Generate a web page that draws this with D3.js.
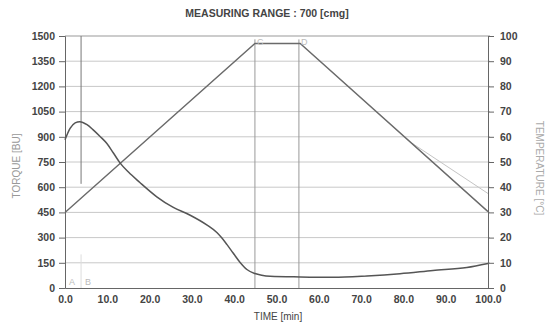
<!DOCTYPE html>
<html><head><meta charset="utf-8">
<script src="https://cdn.jsdelivr.net/npm/d3@7"></script>
<style>body{margin:0;background:#fff}svg{display:block}text{font-family:"Liberation Sans",Arial,sans-serif}</style>
</head><body><svg id="c" width="545" height="325"></svg>
<script>
const title = "MEASURING RANGE : 700 [cmg]";
const timeTicks = [0,10,20,30,40,50,60,70,80,90,100];
const torqueTicks = [0,150,300,450,600,750,900,1050,1200,1350,1500];
const tempTicks = [0,10,20,30,40,50,60,70,80,90,100];
const torqueTime = [0,1.2,2.4,3.5,5.2,6.6,8.3,9.9,11.4,13,15,17.7,21.7,25.5,29.6,33.6,35.9,37,38.3,39.7,41.4,43,44.9,46.5,48.5,55.6,63.4,71.4,79.2,87,95,100];
const torqueVal  = [882,950,983,990,972,943,902,860,805,745,690,628,543,481,433,374,330,300,258,210,152,110,86,76,70,66,64,72,85,104,122,146];
const tempTime = [0,44.9,55.6,100];
const tempVal  = [30,97,97,30.3];
const setTime = [82,100];
const setVal  = [57.5,37.5];
const markerLabels = ["A","B","C","D"];
const markerTime = [0,3.8,44.9,55.3];

const svg = d3.select("#c");
const x = d3.scaleLinear().domain([0,100]).range([65,488]);
const yT = d3.scaleLinear().domain([0,1500]).range([288,36]);
const yC = d3.scaleLinear().domain([0,100]).range([288,36]);

// horizontal grid
svg.append("g").selectAll("line").data(torqueTicks.slice(1)).join("line")
  .attr("x1",x(0)).attr("x2",x(100)+2).attr("y1",d=>yT(d)).attr("y2",d=>yT(d))
  .attr("stroke",d=>d===1500?"#999":"#c8c8c8").attr("stroke-width",1);

// marker vertical lines
svg.append("line").attr("x1",x(3.8)).attr("x2",x(3.8)).attr("y1",yT(1500)).attr("y2",yT(620)).attr("stroke","#777");
svg.append("line").attr("x1",x(3.8)).attr("x2",x(3.8)).attr("y1",yT(200)).attr("y2",yT(0)).attr("stroke","#ddd");
[44.9,55.3].forEach(t=>svg.append("line").attr("x1",x(t)).attr("x2",x(t)).attr("y1",yT(1480)).attr("y2",yT(0)).attr("stroke","#999"));

// axes
const gl = svg.append("g").attr("transform",`translate(${x(0)},0)`)
  .call(d3.axisLeft(yT).tickValues(torqueTicks).tickSize(6).tickPadding(4).tickFormat(d3.format("d")));
const gr = svg.append("g").attr("transform",`translate(${x(100)},0)`)
  .call(d3.axisRight(yC).tickValues(tempTicks).tickSize(6).tickPadding(6).tickFormat(d3.format("d")));
const gb = svg.append("g").attr("transform",`translate(0,${yT(0)})`)
  .call(d3.axisBottom(x).tickValues(timeTicks).tickSize(0).tickPadding(8).tickFormat(d3.format(".1f")));
[gl,gr,gb].forEach(g=>{
  g.select(".domain").attr("stroke","#666");
  g.selectAll(".tick line").attr("stroke","#666");
  g.selectAll("text").attr("font-size",10.5).attr("font-weight","bold").attr("fill","#444").style("font-family","'Liberation Sans',Arial,sans-serif");
});

// temperature set line (faint)
svg.append("path").datum(setTime.map((t,i)=>[t,setVal[i]]))
  .attr("d",d3.line().x(d=>x(d[0])).y(d=>yC(d[1])))
  .attr("fill","none").attr("stroke","#c4c4c4").attr("stroke-width",1);
// temperature
svg.append("path").datum(tempTime.map((t,i)=>[t,tempVal[i]]))
  .attr("d",d3.line().x(d=>x(d[0])).y(d=>yC(d[1])))
  .attr("fill","none").attr("stroke","#6a6a6a").attr("stroke-width",1.4);
// torque
svg.append("path").datum(torqueTime.map((t,i)=>[t,torqueVal[i]]))
  .attr("d",d3.line().curve(d3.curveMonotoneX).x(d=>x(d[0])).y(d=>yT(d[1])))
  .attr("fill","none").attr("stroke","#555").attr("stroke-width",1.5);

// marker labels
svg.append("g").selectAll("text").data(markerTime).join("text")
  .attr("x",(d,i)=>x(d)+(i<2?4:2)).attr("y",(d,i)=>i<2?yT(15):yT(1460)+2)
  .attr("font-size",9).attr("fill","#bbb").text((d,i)=>markerLabels[i]);

// titles
svg.append("text").attr("x",267).attr("y",17).attr("text-anchor","middle")
  .attr("font-size",10.5).attr("font-weight","bold").attr("fill","#444").text(title);
svg.append("text").attr("transform","translate(20,166) rotate(-90)").attr("text-anchor","middle")
  .attr("font-size",10).attr("fill","#999").text("TORQUE  [BU]");
svg.append("text").attr("transform","translate(536,168) rotate(90)").attr("text-anchor","middle")
  .attr("font-size",10).attr("fill","#aaa").text("TEMPERATURE  [°C]");
svg.append("text").attr("x",278).attr("y",320).attr("text-anchor","middle")
  .attr("font-size",10).attr("fill","#444").text("TIME  [min]");
</script></body></html>
